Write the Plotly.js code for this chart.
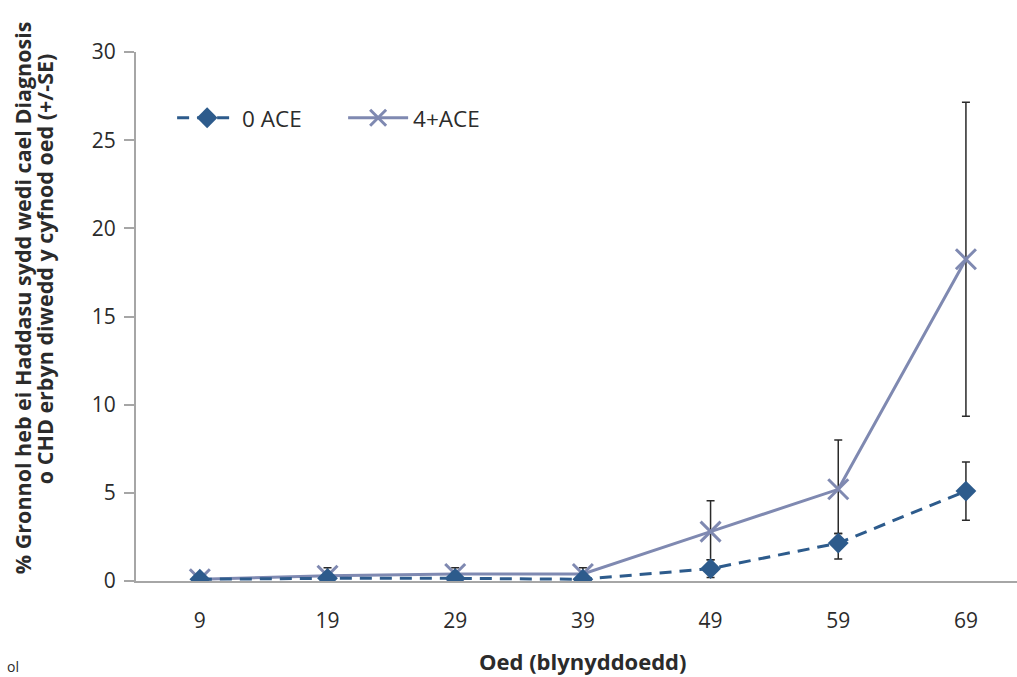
<!DOCTYPE html>
<html>
<head>
<meta charset="utf-8">
<script src="https://cdn.plot.ly/plotly-3.0.1.min.js"></script>
<style>
  html, body { margin: 0; padding: 0; background: #ffffff; }
  #chart { width: 1017px; height: 677px; }
</style>
</head>
<body>
<div id="chart"></div>
<script>
// Age groups (years)
const ageLabels = ["9", "19", "29", "39", "49", "59", "69"];

// Cumulative % diagnosed with CHD, no adverse childhood experiences
const ace0 = [0.1, 0.15, 0.15, 0.1, 0.7, 2.15, 5.1];
const ace0ErrPlus = [0, 0, 0, 0, 0.5, 0.55, 1.65];
const ace0ErrMinus = [0, 0, 0, 0, 0.5, 0.9, 1.65];

// Cumulative % diagnosed with CHD, four or more adverse childhood experiences
const ace4 = [0.1, 0.3, 0.4, 0.4, 2.8, 5.2, 18.25];
const ace4ErrPlus = [0.1, 0.45, 0.35, 0.35, 1.75, 2.8, 8.9];
const ace4ErrMinus = [0.1, 0.3, 0.4, 0.4, 1.6, 2.5, 8.9];

const FONT = "'Open Sans', 'Noto Sans', sans-serif";
const TEXT = "#2b2b2b";

const traces = [
  {
    name: "4+ACE",
    x: ageLabels,
    y: ace4,
    type: "scatter",
    mode: "lines+markers",
    legendrank: 2,
    line: { color: "#7f89b1", width: 3 },
    marker: { symbol: "x-thin-open", size: 20, color: "#7f89b1", line: { color: "#7f89b1", width: 3 } },
    error_y: {
      type: "data", symmetric: false,
      array: ace4ErrPlus, arrayminus: ace4ErrMinus,
      color: "#2a2a2a", thickness: 1.5, width: 4
    }
  },
  {
    name: "0 ACE",
    x: ageLabels,
    y: ace0,
    type: "scatter",
    mode: "lines+markers",
    legendrank: 1,
    line: { color: "#2d5b8c", width: 3, dash: "12px,8px" },
    marker: { symbol: "diamond", size: 16, color: "#2d5b8c" },
    error_y: {
      type: "data", symmetric: false,
      array: ace0ErrPlus, arrayminus: ace0ErrMinus,
      color: "#2a2a2a", thickness: 1.5, width: 4
    }
  }
];

const layout = {
  width: 1017,
  height: 677,
  margin: { l: 136, r: 0, t: 52, b: 96 },
  paper_bgcolor: "#ffffff",
  plot_bgcolor: "#ffffff",
  font: { family: FONT, color: TEXT, size: 21 },
  showlegend: true,
  legend: {
    orientation: "h",
    x: 0.041, y: 0.875,
    xanchor: "left", yanchor: "middle",
    font: { family: FONT, size: 22.5, color: TEXT },
    bgcolor: "rgba(0,0,0,0)",
    itemwidth: 60,
    entrywidth: 96,
    traceorder: "normal"
  },
  xaxis: {
    type: "category",
    range: [-0.5, 6.4],
    showgrid: false,
    zeroline: false,
    showline: true,
    linecolor: "#a6a6a6",
    linewidth: 2,
    ticks: "",
    ticklabelstandoff: 20,
    tickfont: { family: FONT, size: 21, color: TEXT },
    fixedrange: true
  },
  yaxis: {
    range: [0, 30],
    tickvals: [0, 5, 10, 15, 20, 25, 30],
    showgrid: false,
    zeroline: false,
    showline: true,
    linecolor: "#a6a6a6",
    linewidth: 2,
    ticks: "outside",
    ticklen: 10,
    tickwidth: 2,
    tickcolor: "#a6a6a6",
    ticklabelstandoff: 4,
    tickfont: { family: FONT, size: 21, color: TEXT },
    fixedrange: true
  },
  annotations: [
    {
      text: "<b>Oed (blynyddoedd)</b>",
      xref: "x", yref: "paper",
      x: 3, y: -0.152,
      xanchor: "center", yanchor: "middle",
      showarrow: false,
      font: { family: FONT, size: 22, color: TEXT }
    },
    {
      text: "<b>% Gronnol heb ei Haddasu sydd wedi cael Diagnosis</b>",
      xref: "paper", yref: "paper",
      x: -0.128, y: 0.535,
      xanchor: "center", yanchor: "middle",
      textangle: -90,
      showarrow: false,
      font: { family: FONT, size: 21.5, color: TEXT }
    },
    {
      text: "<b>o CHD erbyn diwedd y cyfnod oed (+/-SE)</b>",
      xref: "paper", yref: "paper",
      x: -0.103, y: 0.59,
      xanchor: "center", yanchor: "middle",
      textangle: -90,
      showarrow: false,
      font: { family: FONT, size: 21.5, color: TEXT }
    },
    {
      text: "ol",
      xref: "paper", yref: "paper",
      x: -0.149, y: -0.162,
      xanchor: "left", yanchor: "middle",
      showarrow: false,
      font: { family: FONT, size: 14, color: TEXT }
    }
  ]
};

Plotly.newPlot("chart", traces, layout, { displayModeBar: false, staticPlot: true });
</script>
</body>
</html>
